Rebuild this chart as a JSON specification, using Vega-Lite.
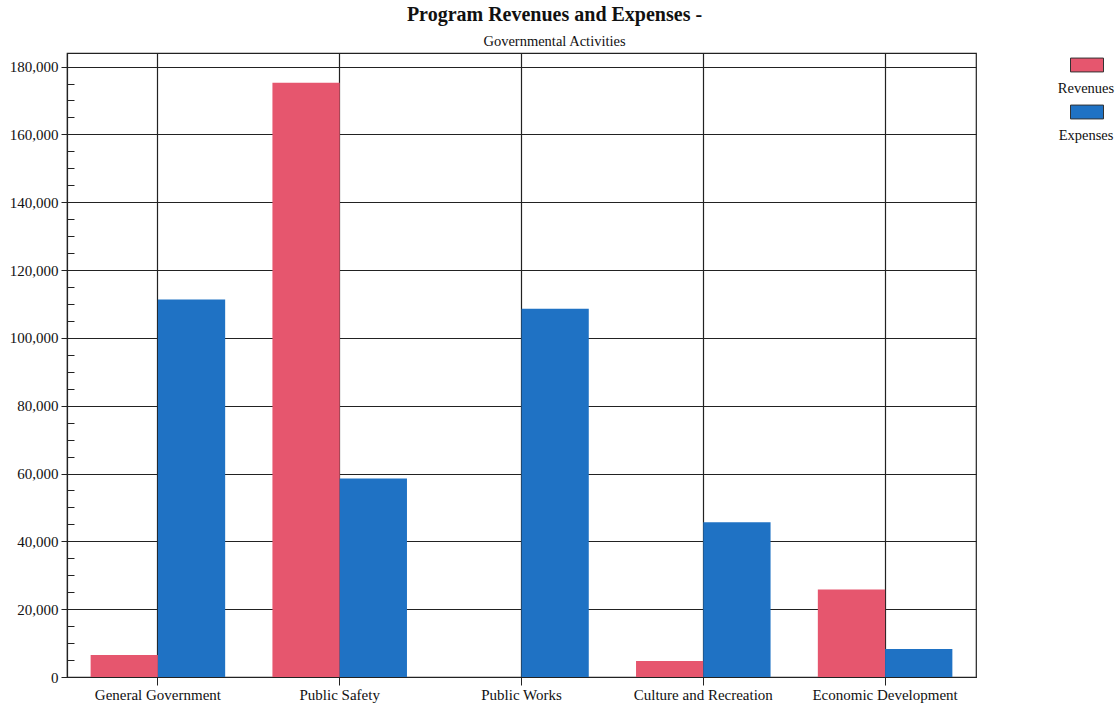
{
  "$schema": "https://vega.github.io/schema/vega-lite/v6.json",
  "width": 909,
  "height": 624,
  "autosize": {"type": "none"},
  "padding": {"left": 67, "top": 53, "right": 143, "bottom": 31},
  "background": "white",
  "title": {
    "text": "Program Revenues and Expenses -",
    "subtitle": "Governmental Activities",
    "anchor": "middle",
    "frame": "group",
    "dx": 33,
    "offset": 0,
    "font": "Liberation Serif",
    "fontSize": 20,
    "fontWeight": "bold",
    "color": "#111",
    "subtitleFont": "Liberation Serif",
    "subtitleFontSize": 14.5,
    "subtitleColor": "#111",
    "subtitlePadding": 10
  },
  "data": {
    "values": [
      {"program": "General Government", "series": "Revenues", "amount": 6500},
      {"program": "General Government", "series": "Expenses", "amount": 111300},
      {"program": "Public Safety", "series": "Revenues", "amount": 175200},
      {"program": "Public Safety", "series": "Expenses", "amount": 58500},
      {"program": "Public Works", "series": "Revenues", "amount": 0},
      {"program": "Public Works", "series": "Expenses", "amount": 108600},
      {"program": "Culture and Recreation", "series": "Revenues", "amount": 4700},
      {"program": "Culture and Recreation", "series": "Expenses", "amount": 45600},
      {"program": "Economic Development", "series": "Revenues", "amount": 25800},
      {"program": "Economic Development", "series": "Expenses", "amount": 8250}
    ]
  },
  "mark": {"type": "bar"},
  "encoding": {
    "x": {
      "field": "program",
      "type": "nominal",
      "sort": null,
      "title": null,
      "scale": {"paddingInner": 0.26, "paddingOuter": 0.13},
      "axis": {
        "labelAngle": 0,
        "labelFont": "Liberation Serif",
        "labelFontSize": 15,
        "labelColor": "#111",
        "labelPadding": 2,
        "tickSize": 8,
        "tickColor": "#222",
        "domainColor": "#222",
        "domainWidth": 1.2,
        "grid": true,
        "gridColor": "#222",
        "gridWidth": 1.2,
        "gridOpacity": 1
      }
    },
    "xOffset": {"field": "series", "type": "nominal", "sort": ["Revenues", "Expenses"]},
    "y": {
      "field": "amount",
      "type": "quantitative",
      "title": null,
      "scale": {"domain": [0, 184000], "nice": false},
      "axis": {
        "values": [0,5000,10000,15000,20000,25000,30000,35000,40000,45000,50000,55000,60000,65000,70000,75000,80000,85000,90000,95000,100000,105000,110000,115000,120000,125000,130000,135000,140000,145000,150000,155000,160000,165000,170000,175000,180000],
        "labelExpr": "datum.value % 20000 === 0 ? format(datum.value, ',') : ''",
        "labelFont": "Liberation Serif",
        "labelFontSize": 15,
        "labelColor": "#111",
        "labelPadding": 3,
        "tickSize": {"condition": {"test": "datum.value % 20000 === 0", "value": 6}, "value": -7},
        "tickColor": "#222",
        "domainColor": "#222",
        "domainWidth": 1.2,
        "grid": true,
        "gridColor": "#222",
        "gridWidth": 1.2,
        "gridOpacity": {"condition": {"test": "datum.value % 20000 === 0", "value": 1}, "value": 0}
      }
    },
    "color": {
      "field": "series",
      "type": "nominal",
      "sort": ["Revenues", "Expenses"],
      "scale": {"domain": ["Revenues", "Expenses"], "range": ["#E6566E", "#1F72C4"]},
      "legend": {
        "title": null,
        "orient": "none",
        "legendX": 1003,
        "legendY": -5,
        "padding": 0,
        "symbolType": "M-1,-0.42H1V0.42H-1Z",
        "symbolSize": 1089,
        "symbolStrokeColor": "#333",
        "symbolStrokeWidth": 1,
        "rowPadding": 0,
        "labelExpr": "['', datum.label]",
        "labelFont": "Liberation Serif",
        "labelFontSize": 14.5,
        "labelColor": "#111",
        "labelAlign": "center",
        "labelBaseline": "top",
        "labelOffset": -18
      }
    }
  },
  "config": {
    "view": {"stroke": "#222", "strokeWidth": 1.2},
    "bar": {"fillOpacity": 1}
  }
}
